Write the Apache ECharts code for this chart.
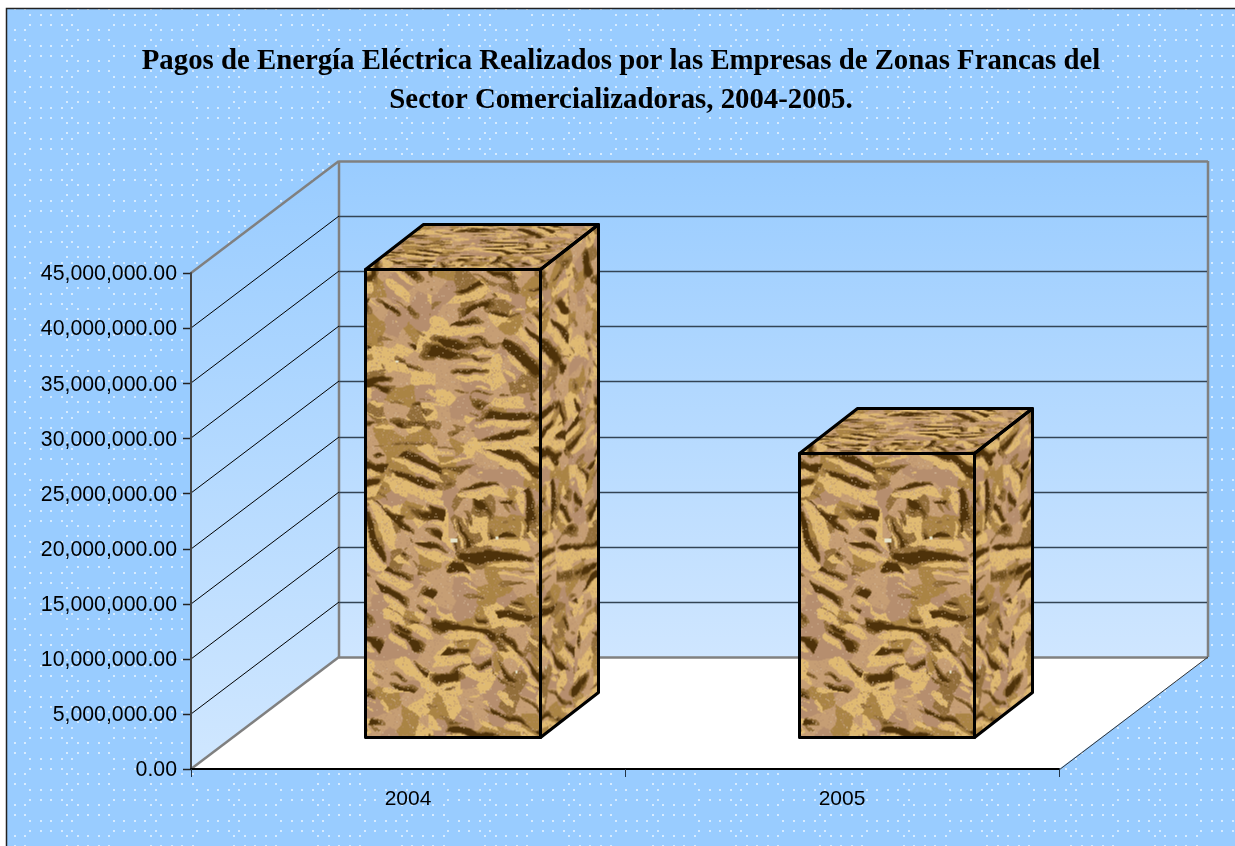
<!DOCTYPE html>
<html>
	<head>
		<meta charset="utf-8">
		<title>Pagos de Energía Eléctrica</title>
		<style>
			html,body{margin:0;padding:0;background:#ffffff;}
			#chart{width:1235px;height:846px;}
		</style>
	</head>
	<body>
		<div id="chart"></div>
		<script src="https://cdn.jsdelivr.net/npm/echarts@6/dist/echarts.min.js"></script>
		<script>
			var titleText = 'Pagos de Energía Eléctrica Realizados por las Empresas de Zonas Francas del\nSector Comercializadoras, 2004-2005.';
			var categories = ['2004', '2005'];
			var paymentValues = [42450000, 25700000];
			var tickValues = [0, 5000000, 10000000, 15000000, 20000000, 25000000, 30000000, 35000000, 40000000, 45000000];

			// 3D look: how far the back wall sits from the front plane
			var DEPTH_X = 148, DEPTH_Y = -112;
			// the column sits between these two fractions of the depth
			var COL_NEAR = 0.29, COL_FAR = 0.685;
			var COL_WIDTH = 0.403;

			// dotted background tile
			function makeDots() {
				var c = document.createElement('canvas');
				c.width = 251; c.height = 31;
				var ctx = c.getContext('2d');
				ctx.fillStyle = '#99ccff';
				ctx.fillRect(0, 0, 251, 31);
				ctx.fillStyle = 'rgba(255,255,255,0.6)';
				for (var g = 0; g < 3; g++) {
					var ox = g * 83.67;
					for (var i = 0; i < 5; i++) {
						[15, 25].forEach(function (y) {
							ctx.fillRect(Math.round(ox + 29 + i * 10.5), y - 1, 2, 2);
						});
						[30, 9].forEach(function (y) {
							ctx.fillRect(Math.round(ox + 66 + i * 10.5) % 251, y - 1, 2, 2);
						});
					}
				}
				return c;
			}

			// crumpled paper texture, repeatable hash noise
			function hash(x, y) {
				var s = Math.sin(x * 127.1 + y * 311.7) * 43758.5453;
				return s - Math.floor(s);
			}
			function noise(x, y) {
				var xi = Math.floor(x), yi = Math.floor(y);
				var fx = x - xi, fy = y - yi;
				fx = fx * fx * (3 - 2 * fx); fy = fy * fy * (3 - 2 * fy);
				var a = hash(xi, yi), b = hash(xi + 1, yi), c = hash(xi, yi + 1), d = hash(xi + 1, yi + 1);
				return a + (b - a) * fx + (c - a) * fy + (a - b - c + d) * fx * fy;
			}
			// nearest jittered point of a grid: returns the facet id
			function facet(u, v, cell) {
				var cx = Math.floor(u / cell), cy = Math.floor(v / cell);
				var d1 = 1e9, id1 = 0;
				for (var j = -1; j <= 1; j++) {
					for (var i = -1; i <= 1; i++) {
						var gx = cx + i, gy = cy + j;
						var px = (gx + hash(gx + cell, gy)) * cell, py = (gy + hash(gx, gy + cell)) * cell;
						var d = (u - px) * (u - px) + (v - py) * (v - py);
						if (d < d1) { d1 = d; id1 = hash(gx * 1.3 + cell, gy * 1.7); }
					}
				}
				return id1;
			}
			// ridged height, its slope gives the folds of the paper
			function height(u, v) {
				var h = (1 - Math.abs(2 * noise(u / 46, v / 20) - 1)) * 22;
				h += (1 - Math.abs(2 * noise(u / 19 + 5, v / 11 + 9) - 1)) * 6;
				return h;
			}
			function makeTexture() {
				var w = 260, h = 480;
				var c = document.createElement('canvas');
				c.width = w; c.height = h;
				var ctx = c.getContext('2d');
				var img = ctx.createImageData(w, h);
				var dark = [78, 50, 10], brown = [112, 80, 30], mid = [146, 110, 58], olive = [170, 132, 68], tan = [198, 158, 116], pink = [182, 142, 110], yellow = [224, 186, 114];
				var tones = [olive, tan, mid, pink, yellow, tan, olive, pink, tan];
				for (var y = 0; y < h; y++) {
					for (var x = 0; x < w; x++) {
						var wx = x + 5 * noise(x / 14, y / 14 + 7) + 1.5 * noise(x / 4, y / 4);
						var wy = y + 5 * noise(x / 14 + 3, y / 14) + 1.5 * noise(x / 4 + 8, y / 4);
						// each patch of the sheet has its own crease direction
						var ang = -0.35 + 1.7 * facet(wx, wy, 62);
						var ca = Math.cos(ang), sa = Math.sin(ang);
						var u = wx * ca + wy * sa, v = -wx * sa + wy * ca;
						var l = height(u, v - 2.2) - height(u, v + 2.2);
						var col = tones[Math.floor(facet(wx + 11, wy + 5, 17) * 9)];
						if (l < -4.4) col = dark;
						else if (l < -3.2) col = brown;
						else if (l < -2.1) col = mid;
						else if (l > 3) col = yellow;
						// fine pink speckle
						var sp = hash(x + 0.5, y + 0.5);
						if (sp > 0.93 && col !== dark) col = pink;
						else if (sp < 0.015) col = [214, 190, 160];
						var k = (y * w + x) * 4;
						img.data[k] = col[0]; img.data[k + 1] = col[1]; img.data[k + 2] = col[2]; img.data[k + 3] = 255;
					}
				}
				ctx.putImageData(img, 0, 0);
				// small pale specks near the middle
				ctx.fillStyle = '#e8e6cc';
				[[85, 281, 7, 4], [130, 279, 3, 3], [30, 103, 3, 2], [150, 413, 2, 3]].forEach(function (s) {
					ctx.fillRect(s[0], s[1], s[2], s[3]);
				});
				return c;
			}

			var dots = makeDots();
			var texture = makeTexture();

			// face canvas: a crop of the texture mapped on to a parallelogram
			function faceCanvas(kind, bw, bh, dx, dy) {
				var c = document.createElement('canvas');
				var ctx = c.getContext('2d');
				var sy = texture.height - bh;
				if (kind === 'front') {
					c.width = Math.ceil(bw); c.height = Math.ceil(bh);
					ctx.drawImage(texture, 0, sy, bw, bh, 0, 0, bw, bh);
				} else if (kind === 'side') {
					c.width = Math.ceil(dx); c.height = Math.ceil(bh + dy);
					ctx.setTransform(dx / 110, -dy / 110, 0, 1, 0, dy);
					ctx.drawImage(texture, 140, sy, 110, bh, 0, 0, 110, bh);
				} else {
					c.width = Math.ceil(bw + dx); c.height = Math.ceil(dy);
					ctx.setTransform(bw / 240, 0, -dx / 240, dy / 240, dx, 0);
					ctx.drawImage(texture, 0, 60, 240, 240, 0, 0, 240, 240);
				}
				return c;
			}

			function wallGradient(from, to) {
				return new echarts.graphic.LinearGradient(0, 0, 0, 1, [
					{offset: 0, color: from},
					{offset: 1, color: to}
				]);
			}

			function renderChamber(params, api) {
				var cs = params.coordSys;
				var xL = cs.x, xR = cs.x + cs.width;
				var y0 = api.coord([0, 0])[1];
				var yT = api.coord([0, 45000000])[1];
				var bx = xL + DEPTH_X, bxR = xR + DEPTH_X + 1;
				var by0 = y0 + DEPTH_Y, byT = yT + DEPTH_Y;
				var gray = '#808080';
				function seg(x1, y1, x2, y2, col, lw) {
					return {type: 'line', shape: {x1: x1, y1: y1, x2: x2, y2: y2}, style: {stroke: col, lineWidth: lw}};
				}
				return {type: 'group', children: [
					{type: 'polygon', shape: {points: [[xL, yT], [bx, byT], [bx, by0], [xL, y0]]}, style: {fill: wallGradient('#99ccff', '#d0e7ff')}},
					{type: 'polygon', shape: {points: [[bx, byT], [bxR, byT], [bxR, by0], [bx, by0]]}, style: {fill: wallGradient('#99ccff', '#cfe6ff')}},
					{type: 'polygon', shape: {points: [[xL, y0], [bx, by0], [bxR, by0], [xR, y0]]}, style: {fill: '#ffffff'}},
					seg(xL, yT, bx, byT, gray, 2.5),
					seg(bx, byT + 0.5, bxR, byT + 0.5, gray, 2.5),
					seg(bxR, byT, bxR, by0, gray, 2.5),
					seg(bx, by0 + 0.5, bxR, by0 + 0.5, gray, 2.5),
					seg(bx, byT, bx, by0, gray, 2.5),
					seg(bx, by0, xL, y0, gray, 2.5),
					seg(bxR, by0, xR, y0 + 1, '#333333', 1)
				]};
			}

			function renderGridline(params, api) {
				var v = api.value(0);
				var cs = params.coordSys;
				var y = Math.round(api.coord([0, v])[1]);
				var xL = cs.x, bx = xL + DEPTH_X, bxR = xL + cs.width + DEPTH_X;
				var by = y + DEPTH_Y;
				var children = [
					{type: 'line', shape: {x1: xL - 8, y1: y + 0.5, x2: xL, y2: y + 0.5}, style: {stroke: '#222222', lineWidth: 1.5}}
				];
				if (v !== 0 && v !== 45000000) {
					children.push({type: 'line', shape: {x1: xL, y1: y, x2: bx, y2: by}, style: {stroke: '#000000', lineWidth: 1}});
					children.push({type: 'line', shape: {x1: bx, y1: by + 0.5, x2: bxR, y2: by + 0.5}, style: {stroke: '#334455', lineWidth: 1.3}});
				}
				return {type: 'group', children: children};
			}

			function renderColumn(params, api) {
				var base = api.coord([api.value(0), 0]);
				var top = api.coord([api.value(0), api.value(1)]);
				var band = api.size([1, 0])[0];
				var w = band * COL_WIDTH;
				var x = Math.round(base[0] - w / 2 + DEPTH_X * COL_NEAR + 1.5) + 0.5;
				var yb = Math.round(base[1] + DEPTH_Y * COL_NEAR) + 0.5;
				var yt = Math.round(top[1] + DEPTH_Y * COL_NEAR) + 0.5;
				var dx = Math.round(DEPTH_X * (COL_FAR - COL_NEAR));
				var dy = Math.ceil(-DEPTH_Y * (COL_FAR - COL_NEAR));
				var bw = Math.round(w), bh = yb - yt;
				var edge = {stroke: '#000000', lineWidth: 3, fill: 'none', lineJoin: 'round'};
				return {type: 'group', children: [
					{type: 'image', style: {image: faceCanvas('front', bw, bh, dx, dy), x: x, y: yt}},
					{type: 'image', style: {image: faceCanvas('side', bw, bh, dx, dy), x: x + bw, y: yt - dy}},
					{type: 'image', style: {image: faceCanvas('top', bw, bh, dx, dy), x: x, y: yt - dy}},
					{type: 'polygon', shape: {points: [[x, yt], [x + bw, yt], [x + bw, yb], [x, yb]]}, style: edge},
					{type: 'polygon', shape: {points: [[x, yt], [x + dx, yt - dy], [x + bw + dx, yt - dy], [x + bw, yt]]}, style: edge},
					{type: 'polygon', shape: {points: [[x + bw, yt], [x + bw + dx, yt - dy], [x + bw + dx, yb - dy], [x + bw, yb]]}, style: edge}
				]};
			}

			var myChart = echarts.init(document.getElementById('chart'), null, {renderer: 'canvas'});
			myChart.setOption({
				animation: false,
				graphic: [{
					type: 'rect',
					z: -1,
					silent: true,
					shape: {x: 6.5, y: 8.5, width: 1240, height: 850},
					style: {fill: {image: dots, repeat: 'repeat'}, stroke: '#222222', lineWidth: 1.5}
				}],
				title: {
					text: titleText,
					left: 616,
					top: 37,
					textAlign: 'center',
					textStyle: {
						fontFamily: 'Liberation Serif',
						fontWeight: 'bold',
						fontSize: 28.8,
						lineHeight: 39,
						color: '#000000'
					}
				},
				grid: {left: 191, top: 273, width: 868, height: 496},
				xAxis: {
					type: 'category',
					data: categories,
					z: 5,
					axisLine: {lineStyle: {color: '#000000', width: 2}},
					axisTick: {show: true, length: 8, lineStyle: {color: '#223344', width: 1}},
					axisLabel: {margin: 20, fontFamily: 'Liberation Sans', fontSize: 21, color: '#000000'}
				},
				yAxis: {
					type: 'value',
					min: 0,
					max: 45000000,
					interval: 5000000,
					z: 5,
					splitLine: {show: false},
					axisLine: {show: true, lineStyle: {color: '#444444', width: 2}},
					axisTick: {show: false},
					axisLabel: {
						margin: 14,
						verticalAlign: 'top',
						lineHeight: 3,
						fontFamily: 'Liberation Sans',
						fontSize: 21.3,
						color: '#000000',
						formatter: function (v) {
							return v.toLocaleString('en-US', {minimumFractionDigits: 2, maximumFractionDigits: 2});
						}
					}
				},
				series: [
					{type: 'custom', silent: true, z: 1, renderItem: renderChamber, data: [0], encode: {y: 0}},
					{type: 'custom', silent: true, z: 2, renderItem: renderGridline, data: tickValues, encode: {y: 0}},
					{type: 'custom', silent: true, z: 3, renderItem: renderColumn, data: paymentValues.map(function (v, i) { return [i, v]; })}
				]
			});
		</script>
	</body>
</html>
